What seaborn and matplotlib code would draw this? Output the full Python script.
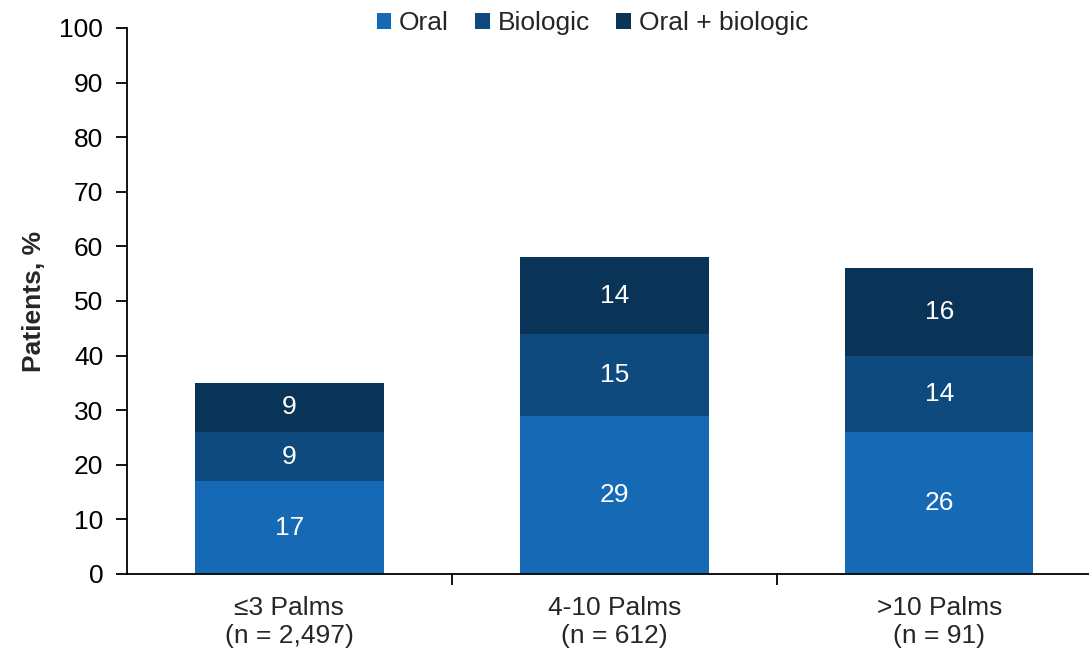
import numpy as np
import pandas as pd
import matplotlib
matplotlib.use('Agg')
import matplotlib.pyplot as plt
import seaborn as sns
from matplotlib.patches import Patch

# data
groups = ['≤3 Palms\n(n = 2,497)', '4-10 Palms\n(n = 612)', '>10 Palms\n(n = 91)']
oral = [17, 29, 26]
biologic = [9, 15, 14]
oral_biologic = [9, 14, 16]
series_names = ['Oral', 'Biologic', 'Oral + biologic']
colors = ['#1569B5', '#0E4A7E', '#0A3358']

sns.set_style('white')
plt.rcParams['font.family'] = ['Liberation Sans', 'DejaVu Sans']
fs = 19

df = pd.DataFrame({'group': groups, 'Oral': oral, 'Biologic': biologic,
                   'Oral + biologic': oral_biologic})

fig = plt.figure(figsize=(10.89, 6.51), dpi=100)
ax = fig.add_axes([0.1166, 0.1183, 0.895, 0.8387])

# stack the three treatment groups
bottom = np.zeros(len(groups))
for name, col in zip(series_names, colors):
    sns.barplot(data=df, x='group', y=name, color=col, width=0.58,
                bottom=bottom, saturation=1, ax=ax, linewidth=0)
    vals = df[name].to_numpy()
    for i, v in enumerate(vals):
        ax.text(i, bottom[i] + v / 2, str(v), ha='center', va='center',
                color='white', fontsize=fs)
    bottom = bottom + vals

ax.set_xlim(-0.5, 2.5)
ax.set_ylim(0, 100)
ax.set_yticks(range(0, 101, 10))
ax.set_xlabel('')
ax.set_ylabel('Patients, %', fontsize=fs, fontweight='bold', labelpad=10)

ax.tick_params(axis='y', which='major', direction='out', length=8, width=1.3,
               labelsize=fs, color='black', labelcolor='black', left=True, pad=9)
ax.tick_params(axis='x', which='major', length=0, labelsize=fs, pad=16)
ax.set_xticks([0.5, 1.5], minor=True)
ax.tick_params(axis='x', which='minor', direction='out', length=8, width=1.3,
               color='black', bottom=True)
for lab in ax.get_xticklabels():
    lab.set_linespacing(1.2)

sns.despine(ax=ax)
for s in ['left', 'bottom']:
    ax.spines[s].set_color('black')
    ax.spines[s].set_linewidth(1.3)

handles = [Patch(facecolor=c, edgecolor='none') for c in colors]
fig.legend(handles, series_names, loc='center', bbox_to_anchor=(0.544, 0.964),
           ncol=3, frameon=False, fontsize=fs, handlelength=0.55,
           handleheight=0.55, handletextpad=0.3, columnspacing=1.0)

fig.savefig('out.png', dpi=100)
